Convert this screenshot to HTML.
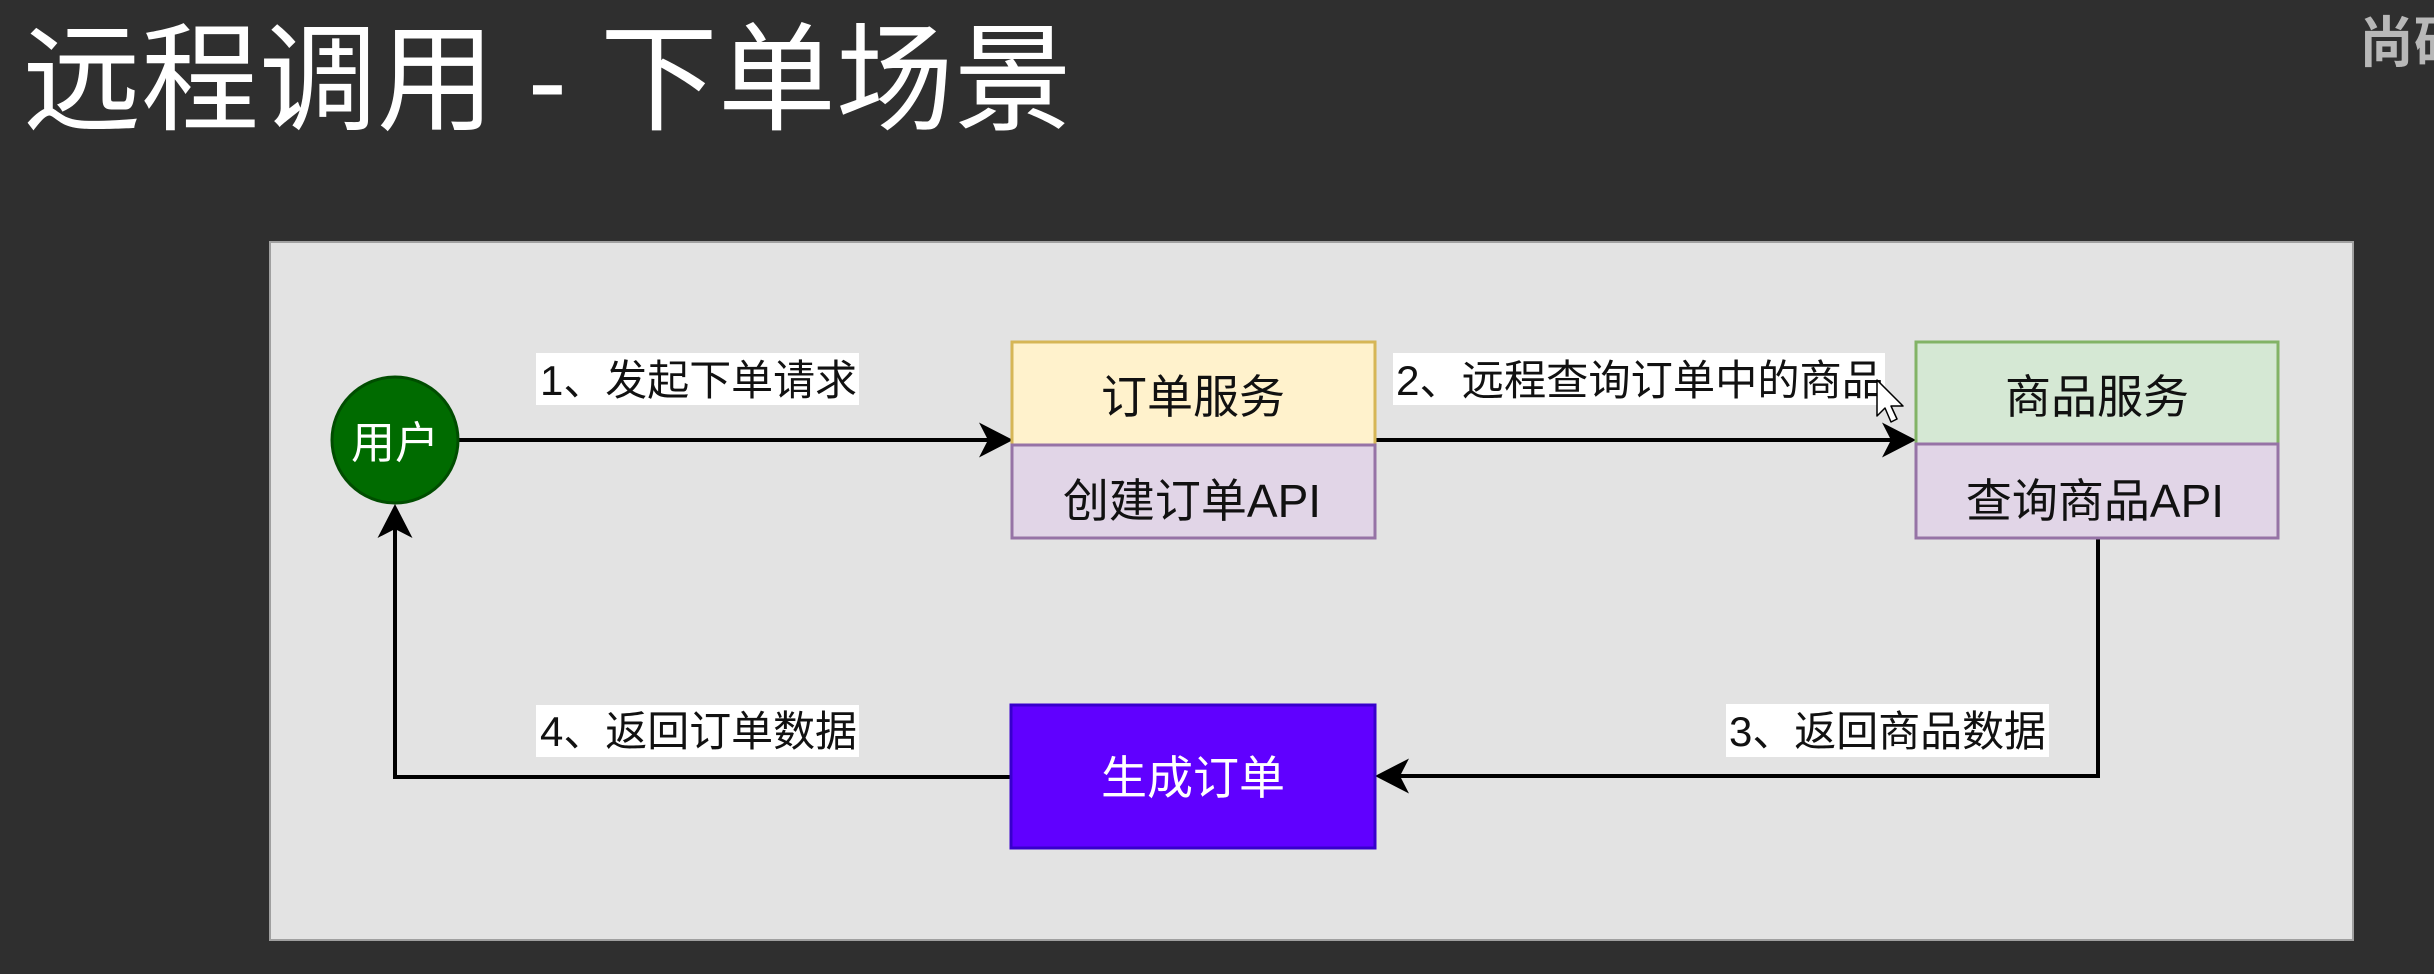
<!DOCTYPE html>
<html>
<head>
<meta charset="utf-8">
<style>
  html, body { margin: 0; padding: 0; background: #2f2f2f; }
  body { width: 2434px; height: 974px; overflow: hidden; position: relative; }
  svg { position: absolute; left: 0; top: 0; display: block; }
  text { font-family: "Liberation Sans", "Noto Sans CJK SC", sans-serif; }
</style>
</head>
<body>
<svg width="2434" height="974" viewBox="0 0 2434 974" xmlns="http://www.w3.org/2000/svg">
  <!-- background -->
  <rect x="0" y="0" width="2434" height="974" fill="#2f2f2f"/>

  <!-- title -->
  <text x="23" y="121" font-size="118" fill="#ffffff">远程调用 - 下单场景</text>

  <!-- watermark -->
  <text x="2359" y="62" font-size="55" font-weight="bold" fill="#b8b8b8">尚硅</text>

  <!-- panel -->
  <rect x="270" y="242" width="2083" height="698" fill="#e3e3e3" stroke="#a0a0a0" stroke-width="2"/>

  <!-- connectors -->
  <g stroke="#000" stroke-width="4" fill="none">
    <line x1="459" y1="440" x2="992" y2="440"/>
    <line x1="1375" y1="440" x2="1895" y2="440"/>
    <polyline points="2098,538 2098,776 1396,776"/>
    <polyline points="1011,777 395,777 395,526"/>
  </g>
  <g fill="#000">
    <polygon points="1013,440 979,422.5 988,440 979,457.5"/>
    <polygon points="1916,440 1882,422.5 1891,440 1882,457.5"/>
    <polygon points="1375,776 1409,758.5 1400,776 1409,793.5"/>
    <polygon points="395,504 377.5,538 395,529 412.5,538"/>
  </g>

  <!-- user circle -->
  <circle cx="395" cy="440" r="63" fill="#006b00" stroke="#004d00" stroke-width="3"/>
  <text x="395" y="458" font-size="44" fill="#ffffff" text-anchor="middle">用户</text>

  <!-- order service -->
  <rect x="1012" y="342" width="363" height="103" fill="#fff2cc" stroke="#d6b656" stroke-width="3"/>
  <rect x="1012" y="445" width="363" height="93" fill="#e1d5e7" stroke="#9673a6" stroke-width="3"/>
  <text x="1193" y="413" font-size="46" fill="#111" text-anchor="middle">订单服务</text>
  <text x="1192" y="517" font-size="46" fill="#111" text-anchor="middle">创建订单API</text>

  <!-- product service -->
  <rect x="1916" y="342" width="362" height="102" fill="#d5e8d4" stroke="#82b366" stroke-width="3"/>
  <rect x="1916" y="444" width="362" height="94" fill="#e1d5e7" stroke="#9673a6" stroke-width="3"/>
  <text x="2097" y="413" font-size="46" fill="#111" text-anchor="middle">商品服务</text>
  <text x="2095" y="517" font-size="46" fill="#111" text-anchor="middle">查询商品API</text>

  <!-- generate order -->
  <rect x="1011" y="705" width="364" height="143" fill="#6000ff" stroke="#3700cc" stroke-width="3"/>
  <text x="1193" y="794" font-size="46" fill="#ffffff" text-anchor="middle">生成订单</text>

  <!-- edge labels -->
  <rect x="536" y="353" width="323" height="52" fill="#ffffff"/>
  <text x="540" y="395" font-size="42" fill="#111" textLength="317" lengthAdjust="spacingAndGlyphs">1、发起下单请求</text>

  <rect x="1393" y="353" width="492" height="52" fill="#ffffff"/>
  <text x="1396" y="395" font-size="42" fill="#111" textLength="488" lengthAdjust="spacingAndGlyphs">2、远程查询订单中的商品</text>

  <rect x="1726" y="704" width="323" height="53" fill="#ffffff"/>
  <text x="1729" y="746" font-size="42" fill="#111" textLength="317" lengthAdjust="spacingAndGlyphs">3、返回商品数据</text>

  <rect x="536" y="705" width="323" height="52" fill="#ffffff"/>
  <text x="540" y="746" font-size="42" fill="#111" textLength="317" lengthAdjust="spacingAndGlyphs">4、返回订单数据</text>

  <!-- mouse cursor -->
  <polygon points="1877,380 1877,416 1885,408 1891,422 1897,419 1891,406 1903,406" fill="#ffffff" stroke="#000" stroke-width="1.5" stroke-linejoin="round"/>
</svg>
</body>
</html>
